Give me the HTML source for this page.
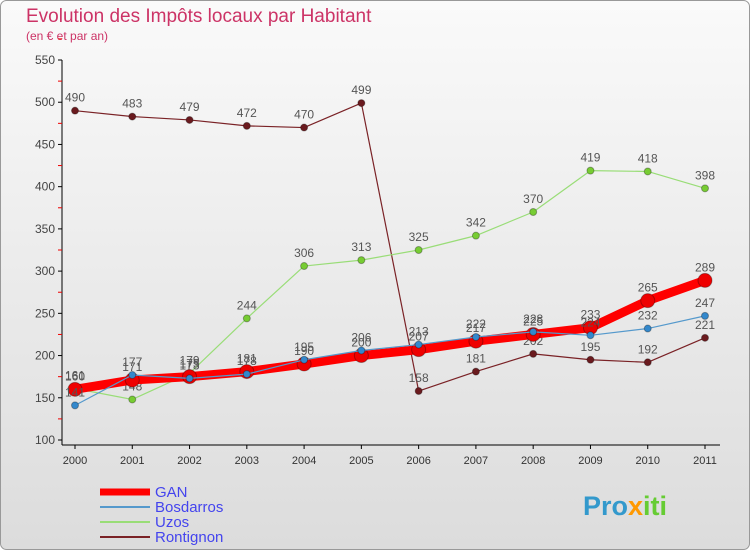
<!DOCTYPE html>
<html><head><meta charset="utf-8"><style>
body{margin:0;width:750px;height:550px;overflow:hidden;font-family:"Liberation Sans",sans-serif}
</style></head><body>
<svg width="750" height="550" xmlns="http://www.w3.org/2000/svg" font-family="Liberation Sans, sans-serif">
<defs><linearGradient id="bg" x1="0" y1="0" x2="0" y2="1"><stop offset="0" stop-color="#fafafa"/><stop offset="1" stop-color="#dcdcdc"/></linearGradient></defs>
<rect x="0.5" y="0.5" width="749" height="549" rx="6" fill="url(#bg)" stroke="#999"/>
<text x="26" y="22" font-size="19" fill="#cc3366">Evolution des Impôts locaux par Habitant</text>
<text x="26" y="40" font-size="12" fill="#cc3366">(en € et par an)</text>
<g id="axes"></g><g id="plot"></g><g id="legend"></g>
<text x="583" y="515" font-size="27" font-weight="bold" fill="#3399cc">Pro<tspan fill="#ff9900">x</tspan><tspan fill="#66cc33">iti</tspan></text>
</svg>
<script>
const years=[2000,2001,2002,2003,2004,2005,2006,2007,2008,2009,2010,2011];
const yTicks=[100,150,200,250,300,350,400,450,500,550];
const gan=[160,171,175,181,190,200,207,217,225,233,265,289];
const bosdarros=[141,177,173,178,195,206,213,222,228,224,232,247];
const uzos=[161,148,179,244,306,313,325,342,370,419,418,398];
const rontignon=[490,483,479,472,470,499,158,181,202,195,192,221];
const NS="http://www.w3.org/2000/svg";
const X=i=>75+i*(705-75)/(years.length-1);
const Y=v=>440-(v-100)*380/450;
function mk(t,a,p){const e=document.createElementNS(NS,t);for(const k in a)e.setAttribute(k,a[k]);p.appendChild(e);return e;}
const ax=document.getElementById('axes');
const yl=mk('line',{x1:62,y1:60,x2:62,y2:445,stroke:'#000'},ax);


yTicks.forEach(v=>{
 mk('line',{x1:58,y1:Y(v),x2:62,y2:Y(v),stroke:'#000'},ax);
 const t=mk('text',{x:55,y:Y(v)+4,'font-size':12,'text-anchor':'end',fill:'#444'},ax);t.textContent=v;
 
 
 mk('line',{x1:58,y1:Y(v+25),x2:62,y2:Y(v+25),stroke:'#e00'},ax);
});
const xl=mk('line',{x1:62,y1:445,x2:720,y2:445,stroke:'#000'},ax);


years.forEach((y,i)=>{
 mk('line',{x1:X(i),y1:445,x2:X(i),y2:449,stroke:'#000'},ax);
 const t=mk('text',{x:X(i),y:464,'font-size':11,'text-anchor':'middle',fill:'#333'},ax);t.textContent=y;
 
 
});
const plot=document.getElementById('plot');
const series=[
 {name:'rontignon',d:rontignon,c:'#7a2226',w:1.2,r:3.5},
 {name:'uzos',d:uzos,c:'#99dd77',w:1.2,r:3.5},
 {name:'gan',d:gan,c:'#ff0000',w:9,r:7},
 {name:'bosdarros',d:bosdarros,c:'#5599cc',w:1.2,r:3.5}];
const fills={rontignon:'#6a1a1e',uzos:'#77cc33',gan:'#ee0000',bosdarros:'#3388cc'};
series.forEach(s=>{
 const g=mk('g',{},plot);
 
 
 const p=mk('polyline',{points:s.d.map((v,i)=>X(i)+','+Y(v)).join(' '),fill:'none',stroke:s.c,'stroke-width':s.w,'stroke-linejoin':'round'},g);
 
 
 s.d.forEach((v,i)=>{
  const c=mk('circle',{cx:X(i),cy:Y(v),r:s.r,fill:fills[s.name],stroke:'rgba(0,0,0,0.3)'},g);
  
  
  const t=mk('text',{x:X(i),y:Y(v)-9,'font-size':12,'text-anchor':'middle',fill:'#555'},g);t.textContent=v;
  
  
 });
});
const lg=document.getElementById('legend');
[['GAN','#ff0000',7],['Bosdarros','#5599cc',2],['Uzos','#99dd77',2],['Rontignon','#7a2226',2]].forEach((e,i)=>{
 const y=492+i*15;
 const g=mk('g',{},lg);
 
 
 mk('line',{x1:100,y1:y,x2:150,y2:y,stroke:e[1],'stroke-width':e[2]},g);
 const t=mk('text',{x:155,y:y+5,'font-size':15,fill:'#4444ee'},g);t.textContent=e[0];
});
</script>
</body></html>
